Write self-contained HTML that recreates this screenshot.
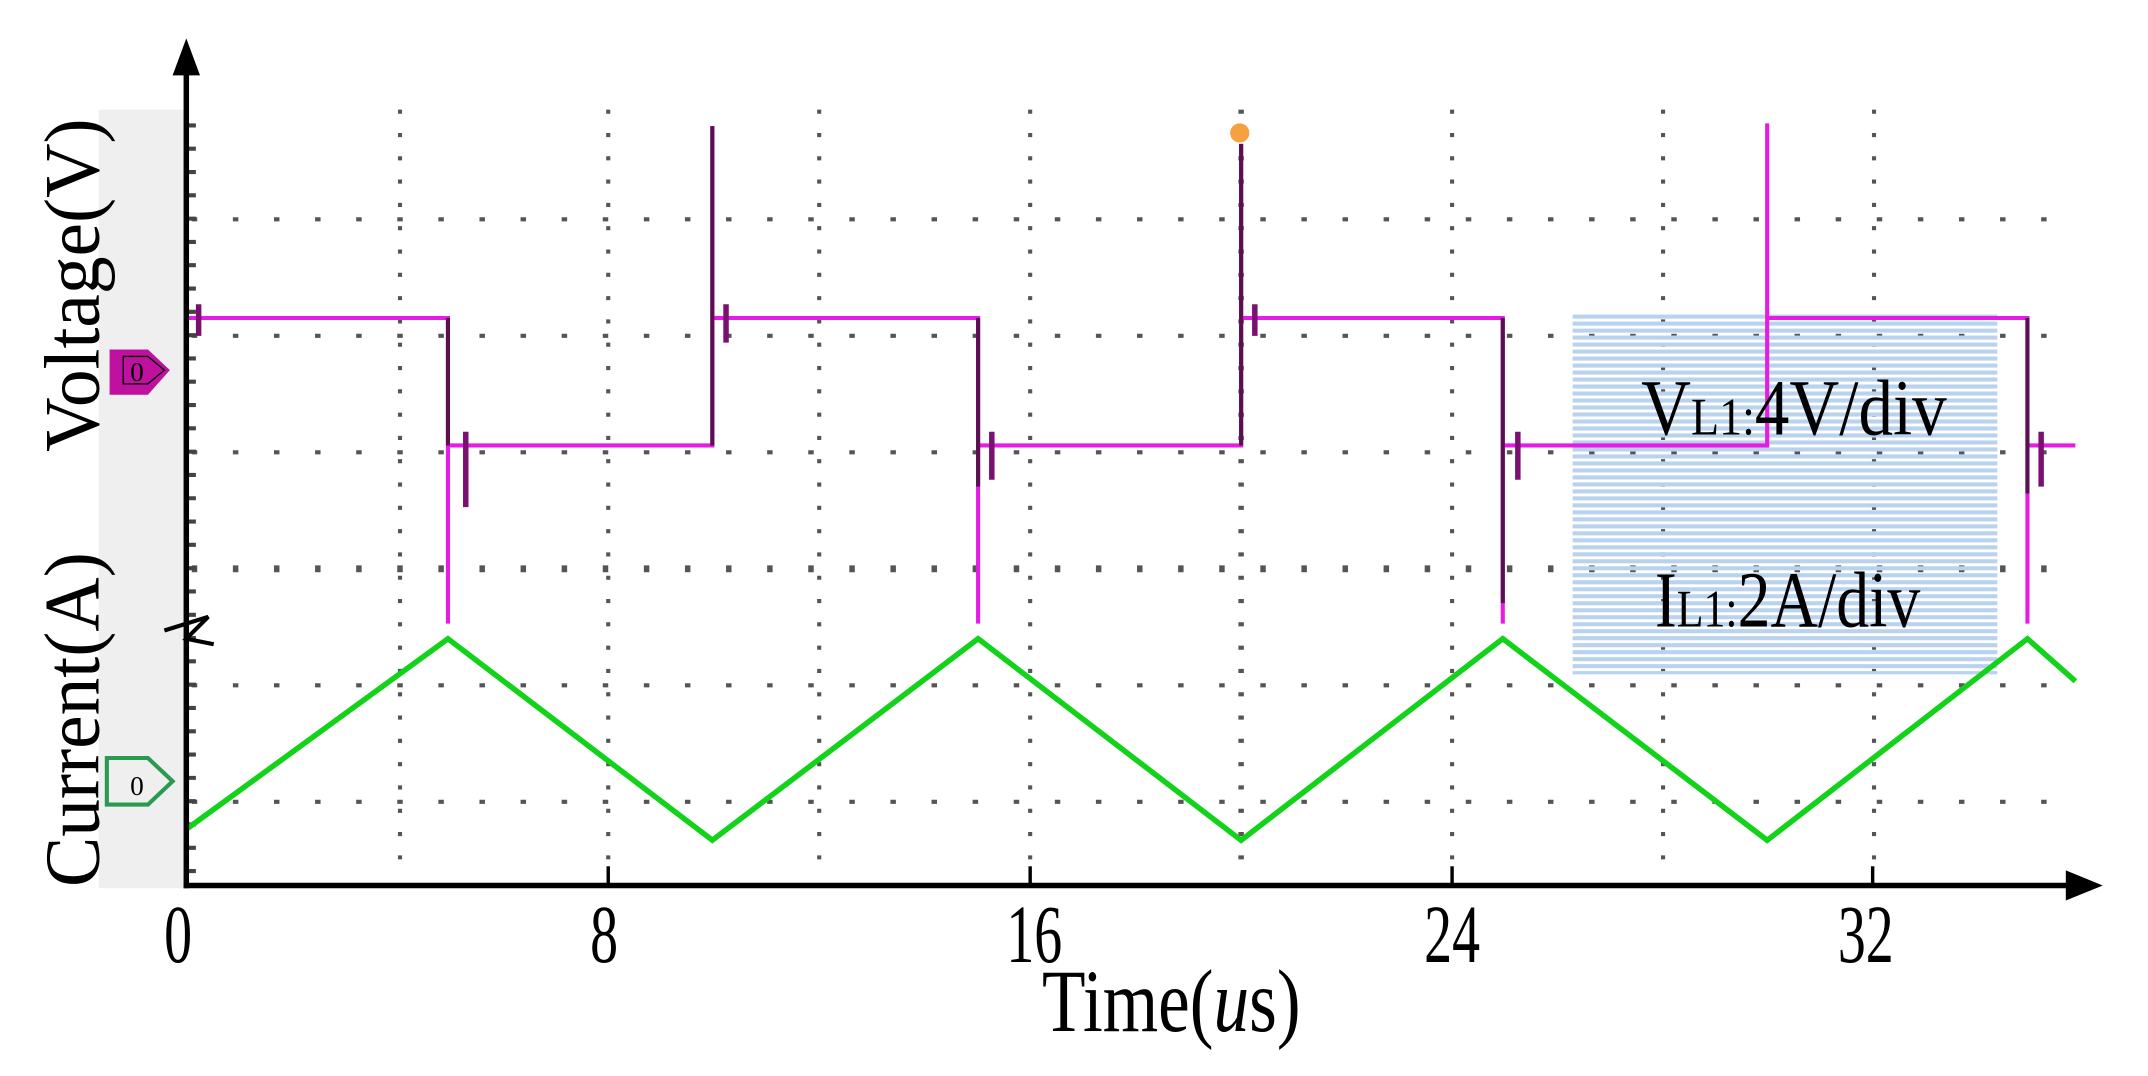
<!DOCTYPE html>
<html><head><meta charset="utf-8"><style>
html,body{margin:0;padding:0;background:#fff;width:2148px;height:1076px;overflow:hidden}
svg{display:block}
text{font-family:"Liberation Serif",serif;fill:#000}
</style></head><body>
<svg width="2148" height="1076" viewBox="0 0 1568 785" preserveAspectRatio="none" xmlns="http://www.w3.org/2000/svg">
<defs>
<pattern id="hatch" width="10" height="5.1" patternUnits="userSpaceOnUse">
<rect x="0" y="0" width="10" height="3" fill="#b9d3ee"/>
</pattern>
</defs>
<rect x="72" y="80" width="62" height="568" fill="#efefef"/>
<g stroke="#555" stroke-width="3" stroke-dasharray="3 14">
<line x1="292" y1="80" x2="292" y2="640"/>
<line x1="444" y1="80" x2="444" y2="640"/>
<line x1="598" y1="80" x2="598" y2="640"/>
<line x1="752" y1="80" x2="752" y2="640"/>
<line x1="906" y1="80" x2="906" y2="640" stroke-width="4"/>
<line x1="1060" y1="80" x2="1060" y2="640"/>
<line x1="1214" y1="80" x2="1214" y2="640"/>
<line x1="1368" y1="80" x2="1368" y2="640"/>
</g>
<g stroke="#555" stroke-width="3" stroke-dasharray="4 26">
<line x1="140" y1="160" x2="1500" y2="160"/>
<line x1="140" y1="245" x2="1500" y2="245"/>
<line x1="140" y1="330" x2="1500" y2="330"/>
<line x1="140" y1="415" x2="1500" y2="415" stroke-width="5"/>
<line x1="140" y1="500" x2="1500" y2="500"/>
<line x1="140" y1="585" x2="1500" y2="585"/>
</g>
<line x1="140" y1="90" x2="140" y2="640" stroke="#444" stroke-width="6" stroke-dasharray="3 14"/>
<rect x="1148" y="228" width="310" height="264" fill="url(#hatch)"/>
<g fill="none">
<path d="M136,100 L136,232 L327,232 L327,455 M327,325 L520,325 L520,92 M520,232 L714,232 L714,455 M714,325 L906,325 L906,105 M906,232 L1097,232 L1097,455 M1097,325 L1290,325 L1290,90 M1290,232 L1480,232 L1480,455 M1480,325 L1515,325" stroke="#e61ce6" stroke-width="3"/>
<path d="M520,92 L520,325 M906,105 L906,325 M327,232 L327,325 M714,232 L714,355 M1097,232 L1097,440 M1480,232 L1480,360" stroke="#5a1050" stroke-width="3"/>
<path d="M340,315 L340,370 M530,222 L530,250 M724,315 L724,350 M916,222 L916,245 M1108,315 L1108,350 M1490,315 L1490,355 M145,222 L145,245" stroke="#7a1070" stroke-width="4"/>
</g>
<circle cx="905" cy="97" r="7" fill="#f6a040"/>
<path d="M136,605 L327,466 L520,613 L714,466 L906,613 L1097,466 L1290,613 L1480,466 L1515,497" fill="none" stroke="#12d21a" stroke-width="4"/>
<line x1="136" y1="45" x2="136" y2="648" stroke="#000" stroke-width="4"/>
<polygon points="136,28 126,55 146,55" fill="#000"/>
<line x1="134" y1="646" x2="1515" y2="646" stroke="#000" stroke-width="4"/>
<polygon points="1535,646 1508,635 1508,657" fill="#000"/>
<g stroke="#000" stroke-width="2.5">
<line x1="444" y1="632" x2="444" y2="646"/><line x1="752" y1="632" x2="752" y2="646"/><line x1="1060" y1="632" x2="1060" y2="646"/><line x1="1367" y1="632" x2="1367" y2="646"/>
</g>
<path d="M120,460 L152,450 L136,466 L156,470" fill="none" stroke="#000" stroke-width="3"/>
<path d="M80,255 L108,255 L124,270 L108,288 L80,288 Z" fill="#c010a0"/>
<path d="M90,260 L108,260 L120,270 L108,280 L90,280 Z" fill="none" stroke="#000" stroke-width="1"/>
<text x="100" y="278" font-size="20" text-anchor="middle">0</text>
<path d="M78,553 L108,553 L126,570 L108,587 L78,587 Z" fill="none" stroke="#2a9a50" stroke-width="3"/>
<text x="100" y="580" font-size="20" text-anchor="middle">0</text>
<text transform="translate(1198,317) scale(1.05,1.2)" font-size="48">V<tspan font-size="32">L1:</tspan>4V/div</text>
<text transform="translate(1208,457) scale(1.0,1.2)" font-size="48">I<tspan font-size="32">L1:</tspan>2A/div</text>
<g font-size="48" text-anchor="middle">
<text transform="translate(130,702) scale(0.85,1.25)">0</text>
<text transform="translate(441,702) scale(0.85,1.25)">8</text>
<text transform="translate(755,702) scale(0.85,1.25)">16</text>
<text transform="translate(1060,702) scale(0.85,1.25)">24</text>
<text transform="translate(1362,702) scale(0.85,1.25)">32</text>
</g>
<text transform="translate(855,752) scale(1.0,1.25)" font-size="52" text-anchor="middle">Time(<tspan font-style="italic">u</tspan>s)</text>
<text transform="translate(72,208) rotate(-90) scale(1.1,1.15)" font-size="50" text-anchor="middle">Voltage(V)</text>
<text transform="translate(72,525) rotate(-90) scale(1.1,1.15)" font-size="50" text-anchor="middle">Current(A)</text>
</svg>
</body></html>
